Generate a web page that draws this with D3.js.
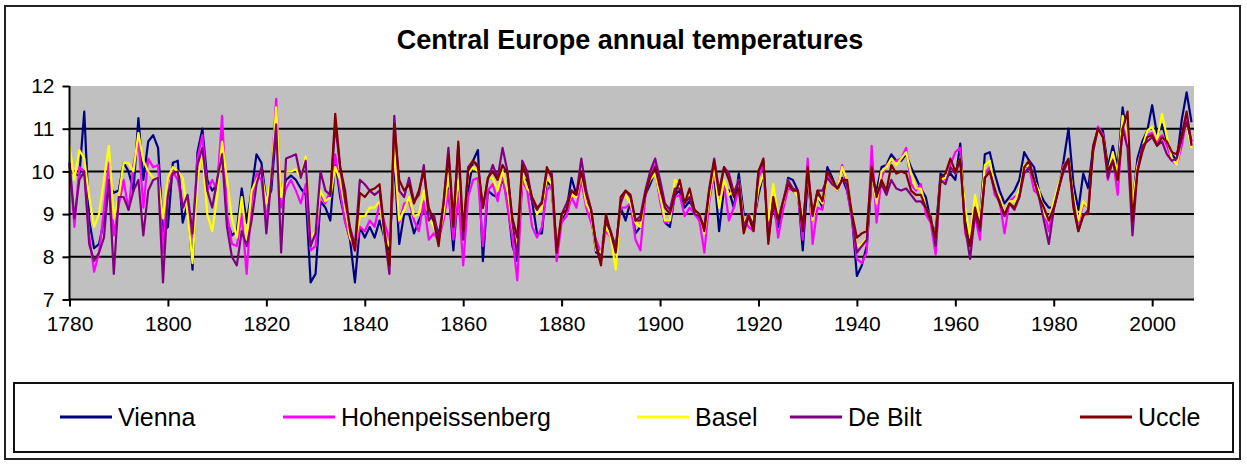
<!DOCTYPE html>
<html>
<head>
<meta charset="utf-8">
<script src="https://cdn.jsdelivr.net/npm/d3@7/dist/d3.min.js"></script>
<style>
    body { margin: 0; background: #fff; }
    text { font-family: Arial, "Liberation Sans", sans-serif; fill: #000; }
</style>
</head>
<body>
<svg></svg>
<script>
"use strict";

// annual means
var years = d3.range(1780, 2009);
var yTicks = [7, 8, 9, 10, 11, 12];
var xTicks = [1780, 1800, 1820, 1840, 1860, 1880, 1900, 1920, 1940, 1960, 1980, 2000];

var vienna = [
    10.0, 9.95, 9.9, 11.4, 8.85, 8.2, 8.3, 8.85, 9.7, 9.5,
    9.55, 10.2, 10.0, 9.55, 11.25, 9.8, 10.7, 10.85, 10.55, 8.6,
    8.7, 10.2, 10.25, 8.8, 9.25, 7.7, 10.45, 11.0, 9.8, 9.55,
    9.7, 10.9, 8.85, 8.5, 8.6, 9.6, 8.8, 9.55, 10.4, 10.2,
    9.3, 9.55, 11.0, 9.45, 9.8, 9.9, 9.8, 9.6, 9.45, 7.4,
    7.6, 9.3, 9.15, 8.85, 10.25, 9.4, 8.85, 8.4, 7.4, 8.7,
    8.45, 8.7, 8.45, 8.85, 8.45, 8.15, 10.25, 8.3, 9.0, 9.0,
    8.55, 8.85, 9.1, 9.0, 8.85, 8.55, 8.95, 9.6, 8.15, 9.6,
    8.85, 9.55, 10.25, 10.5, 7.9, 9.55, 9.45, 9.4, 9.85, 9.3,
    8.25, 7.9, 9.8, 9.8, 9.3, 8.55, 8.55, 9.8, 9.6, 8.25,
    8.85, 9.1, 9.85, 9.45, 9.8, 9.3, 9.0, 8.1, 8.05, 8.85,
    8.55, 8.25, 9.15, 8.85, 9.3, 8.55, 8.7, 9.45, 9.7, 10.0,
    9.4, 8.8, 8.7, 9.45, 9.55, 9.15, 9.3, 9.1, 8.85, 8.7,
    9.4, 9.95, 8.6, 9.6, 9.55, 9.15, 9.95, 9.0, 8.95, 8.8,
    9.45, 9.95, 8.8, 9.15, 8.7, 9.15, 9.85, 9.8, 9.55, 8.15,
    9.8, 8.85, 9.45, 9.15, 10.1, 9.85, 9.55, 9.85, 9.55, 8.95,
    7.55, 7.8, 8.25, 9.8, 9.55, 10.1, 10.15, 10.4, 10.25, 10.25,
    10.4, 10.1, 9.85, 9.6, 9.4, 8.85, 8.55, 9.95, 9.85, 9.95,
    9.8, 10.65, 8.85, 8.4, 9.0, 8.85, 10.4, 10.45, 9.95, 9.55,
    9.25, 9.4, 9.55, 9.8, 10.45, 10.25, 10.1, 9.55, 9.3, 9.15,
    9.15, 9.6, 10.25, 11.0, 9.7, 9.1, 9.95, 9.6, 10.55, 11.0,
    10.95, 10.1, 10.6, 10.1, 11.5, 10.7, 9.15, 10.3, 10.7, 10.95,
    11.55, 10.85, 11.1, 10.7, 10.4, 10.25, 11.2, 11.85, 11.15
];

var hohenpeissenberg = [
    10.2, 8.7, 10.1, 10.0, 8.5, 7.65, 8.1, 9.1, 10.2, 8.5,
    9.2, 9.8, 9.1, 10.15, 10.75, 9.15, 10.3, 10.1, 10.15, 8.1,
    9.8, 10.0, 9.8, 9.15, 9.3, 8.45, 10.3, 10.85, 9.55, 9.8,
    9.55, 11.3, 9.0, 8.3, 8.25, 9.0, 7.6, 9.3, 9.95, 9.8,
    8.85, 9.8, 11.7, 9.15, 9.6, 9.8, 9.55, 9.25, 9.7, 8.15,
    8.25, 9.45, 9.25, 9.55, 10.4, 9.55, 8.8, 8.45, 8.15, 8.7,
    8.6, 8.85, 8.7, 9.25, 8.8, 8.4, 10.4, 8.8, 9.25, 9.3,
    8.85, 8.6, 9.3, 8.4, 8.55, 8.4, 8.85, 9.55, 8.4, 9.45,
    7.8, 9.4, 9.8, 9.85, 8.25, 9.55, 9.7, 9.3, 9.95, 9.15,
    8.45, 7.45, 9.8, 9.55, 8.7, 8.45, 8.7, 9.55, 9.7, 7.9,
    8.8, 8.95, 9.4, 9.15, 9.8, 9.15, 8.8, 8.4, 8.1, 8.6,
    8.45, 8.25, 9.15, 9.15, 9.25, 8.4, 8.15, 9.4, 9.95, 10.15,
    9.3, 8.8, 8.85, 9.4, 9.45, 8.95, 9.15, 9.0, 8.85, 8.1,
    9.3, 9.95, 9.25, 9.7, 8.85, 9.15, 9.6, 8.85, 8.7, 8.6,
    9.85, 10.15, 8.6, 9.4, 8.45, 9.1, 9.6, 9.55, 9.45, 8.4,
    10.3, 8.3, 9.15, 9.1, 9.95, 9.7, 9.55, 10.15, 9.6, 8.85,
    7.95, 7.85, 8.1, 10.6, 8.8, 9.85, 10.15, 10.25, 10.25, 10.3,
    10.55, 9.7, 9.55, 9.7, 9.0, 8.8, 8.05, 9.85, 9.8, 10.15,
    10.45, 10.55, 8.55, 8.25, 8.95, 8.4, 9.95, 10.1, 9.45, 9.3,
    8.55, 9.3, 9.4, 9.45, 10.1, 10.1, 9.55, 9.45, 9.1, 8.6,
    9.25, 9.6, 10.15, 10.25, 9.25, 8.8, 9.25, 9.15, 10.45, 11.05,
    10.85, 9.8, 10.3, 9.45, 11.1, 10.7, 9.1, 10.15, 10.55, 10.85,
    10.9, 10.7, 10.85, 10.6, 10.25, 10.15, 10.6, 11.25, 10.7
];

var basel = [
    10.6, 9.8, 10.5, 10.3, 9.4, 8.7, 9.0, 9.8, 10.6, 8.9,
    9.4, 10.2, 10.2, 10.0, 10.9, 10.25, 10.0, 9.85, 9.85, 8.9,
    9.85, 10.1, 10.0, 9.85, 9.0, 7.85, 9.85, 10.45, 9.0, 8.6,
    9.4, 10.7, 9.8, 8.9, 8.45, 9.4, 8.4, 9.55, 9.8, 10.0,
    9.25, 9.85, 11.5, 9.4, 10.0, 10.0, 10.05, 9.85, 10.35, 8.45,
    8.6, 9.55, 9.3, 9.4, 10.1, 9.8, 9.15, 8.45, 8.25, 8.95,
    8.95, 9.15, 9.15, 9.3, 8.45, 8.25, 10.55, 8.85, 9.1, 9.4,
    8.95, 9.0, 9.55, 8.95, 8.7, 8.45, 9.0, 9.95, 8.85, 9.8,
    8.7, 9.95, 10.1, 10.0, 9.25, 9.85, 9.85, 9.55, 10.0, 9.55,
    8.7, 8.25, 9.95, 9.6, 9.45, 9.0, 9.15, 9.85, 9.7, 8.25,
    8.95, 9.15, 9.45, 9.4, 9.95, 9.25, 9.0, 8.15, 8.1, 8.7,
    8.45, 7.7, 9.3, 9.45, 9.25, 8.8, 8.7, 9.55, 9.8, 9.95,
    9.45, 8.85, 8.85, 9.8, 9.7, 9.3, 9.45, 9.0, 9.0, 8.55,
    9.4, 10.1, 9.15, 9.8, 9.45, 9.55, 9.8, 8.8, 9.0, 8.85,
    9.6, 9.95, 8.85, 9.7, 8.95, 9.25, 9.8, 9.6, 9.4, 8.85,
    9.95, 8.85, 9.4, 9.25, 9.85, 9.7, 9.55, 10.1, 9.8, 9.0,
    8.25, 8.3, 8.45, 9.95, 9.25, 10.0, 10.1, 10.3, 10.15, 10.3,
    10.45, 9.95, 9.6, 9.6, 9.15, 8.95, 8.4, 9.8, 9.85, 10.1,
    9.95, 10.3, 9.15, 8.45, 9.45, 8.85, 10.15, 10.25, 9.55, 9.4,
    9.0, 9.3, 9.3, 9.55, 10.15, 10.1, 9.8, 9.55, 9.0, 8.85,
    9.3, 9.7, 10.1, 10.3, 9.4, 8.85, 9.3, 9.15, 10.4, 10.95,
    10.8, 9.95, 10.45, 9.95, 11.3, 10.85, 9.25, 10.1, 10.55, 10.95,
    11.05, 10.75, 11.35, 10.8, 10.3, 10.15, 10.8, 11.1, 10.55
];

var deBilt = [
    10.2, 8.9, 9.8, 10.0, 8.3, 7.9, 8.1, 8.45, 9.8, 7.6,
    9.4, 9.4, 9.1, 9.55, 9.8, 8.5, 9.55, 9.8, 9.85, 7.4,
    9.45, 9.95, 10.0, 9.15, 9.45, 8.55, 10.15, 10.55, 9.55, 9.15,
    9.8, 10.4, 8.7, 8.0, 7.8, 8.6, 8.25, 8.85, 9.7, 10.1,
    8.55, 9.8, 11.1, 8.1, 10.3, 10.35, 10.4, 9.85, 10.25, 8.25,
    8.55, 10.0, 9.55, 9.45, 11.1, 10.1, 9.3, 8.7, 8.25, 9.8,
    9.7, 9.55, 9.45, 9.55, 8.55, 7.6, 11.3, 9.55, 9.4, 9.85,
    9.3, 9.45, 10.15, 8.85, 9.0, 8.45, 9.25, 10.55, 8.85, 10.6,
    8.4, 10.1, 10.25, 10.15, 9.15, 9.8, 10.15, 9.85, 10.55, 10.0,
    8.8, 8.0, 10.25, 10.0, 9.3, 9.1, 9.3, 10.0, 9.95, 8.15,
    9.0, 9.25, 9.55, 9.45, 10.3, 9.55, 9.1, 8.3, 7.9, 8.85,
    8.6, 8.15, 9.25, 9.55, 9.4, 8.85, 8.95, 9.55, 10.0, 10.3,
    9.8, 9.25, 9.1, 9.6, 9.6, 9.25, 9.4, 9.0, 8.95, 8.7,
    9.6, 10.3, 9.55, 10.1, 9.95, 9.5, 9.8, 8.7, 9.0, 8.7,
    10.0, 10.25, 8.4, 9.3, 8.85, 9.3, 9.8, 9.6, 9.55, 8.7,
    10.0, 8.95, 9.55, 9.55, 9.85, 9.7, 9.6, 9.8, 9.7, 8.95,
    8.1, 8.25, 8.4, 9.95, 9.45, 9.7, 9.45, 9.8, 9.6, 9.55,
    9.6, 9.45, 9.3, 9.3, 9.15, 8.95, 8.25, 9.8, 9.7, 10.1,
    9.95, 10.25, 8.7, 7.95, 9.0, 8.6, 9.85, 10.0, 9.55, 9.3,
    8.95, 9.25, 9.1, 9.4, 9.95, 10.1, 9.8, 9.4, 8.85, 8.3,
    9.1, 9.6, 10.0, 10.25, 9.3, 8.6, 8.95, 9.1, 10.45, 11.0,
    10.8, 9.85, 10.25, 9.8, 11.0, 10.55, 8.5, 10.0, 10.6, 10.7,
    10.8, 10.6, 10.7, 10.4, 10.25, 10.3, 10.75, 11.15, 10.7
];

// Uccle starts in 1833
var uccleStart = 1833;
var uccle = [
    9.4, 11.35, 10.1, 9.55, 8.6, 8.15, 9.5,
    9.4, 9.55, 9.6, 9.7, 8.6, 7.8, 11.1, 9.8, 9.55, 9.7,
    9.25, 9.55, 10.0, 9.15, 8.85, 8.25, 9.25, 10.4, 8.7, 10.7,
    8.6, 10.0, 10.25, 10.1, 9.15, 9.85, 10.0, 9.8, 10.15, 9.95,
    8.9, 8.45, 10.15, 9.85, 9.4, 9.15, 9.25, 10.1, 9.85, 8.1,
    9.0, 9.1, 9.55, 9.45, 10.0, 9.45, 9.1, 8.25, 7.8, 9.0,
    8.55, 8.1, 9.4, 9.55, 9.45, 8.85, 8.85, 9.45, 9.85, 10.1,
    9.6, 9.15, 9.0, 9.45, 9.8, 9.25, 9.6, 9.1, 9.0, 8.6,
    9.55, 10.25, 9.45, 10.1, 9.8, 9.4, 9.6, 8.55, 8.95, 8.6,
    10.0, 10.3, 8.3, 9.4, 8.85, 9.3, 9.7, 9.55, 9.55, 8.6,
    10.1, 9.0, 9.55, 9.3, 10.0, 9.8, 9.6, 9.8, 9.8, 9.0,
    8.45, 8.55, 8.6, 10.1, 9.4, 9.8, 9.55, 10.15, 9.95, 10.0,
    9.95, 9.55, 9.45, 9.45, 9.15, 8.85, 8.45, 9.85, 9.95, 10.3,
    10.0, 10.3, 8.7, 8.25, 9.15, 8.7, 9.85, 10.0, 9.6, 9.25,
    9.0, 9.25, 9.15, 9.4, 10.1, 10.25, 9.8, 9.4, 9.15, 8.85,
    9.15, 9.6, 10.1, 10.3, 9.15, 8.6, 9.0, 9.0, 10.6, 11.0,
    10.8, 10.0, 10.25, 9.8, 11.0, 11.4, 8.85, 10.0, 10.45, 10.8,
    10.85, 10.6, 10.8, 10.7, 10.45, 10.4, 10.85, 11.4, 10.6
];

var seriesNames = ['Vienna', 'Hohenpeissenberg', 'Basel', 'De Bilt', 'Uccle'];
var seriesColors = ['#000080', '#ff00ff', '#ffff00', '#800080', '#800000'];

var settings = {
    svg: { width: 1247, height: 464 },
    plot: { left: 69.5, right: 1194, top: 86, bottom: 299.5, fill: '#c0c0c0' },
    legend: {
        x: 14, y: 383, width: 1219, height: 69,
        items: [60, 283, 637, 790, 1080],
        lineWidth: 52
    }
};

var series = [
    { name: seriesNames[0], color: seriesColors[0], start: 1780, values: vienna },
    { name: seriesNames[1], color: seriesColors[1], start: 1780, values: hohenpeissenberg },
    { name: seriesNames[2], color: seriesColors[2], start: 1780, values: basel },
    { name: seriesNames[3], color: seriesColors[3], start: 1780, values: deBilt },
    { name: seriesNames[4], color: seriesColors[4], start: uccleStart, values: uccle }
];

var svg = d3.select('svg')
    .attr('width', settings.svg.width)
    .attr('height', settings.svg.height);

// chart frame
svg.append('rect')
    .attr('x', 5).attr('y', 6)
    .attr('width', 1235).attr('height', 453)
    .attr('fill', '#fff')
    .attr('stroke', '#222')
    .attr('stroke-width', 2);

svg.append('text')
    .attr('x', 630)
    .attr('y', 49)
    .attr('text-anchor', 'middle')
    .style('font-weight', 'bold')
    .style('font-size', '27px')
    .text('Central Europe annual temperatures');

var x = d3.scaleLinear()
    .domain([1780, 2008.5])
    .range([settings.plot.left, settings.plot.right]);

var y = d3.scaleLinear()
    .domain([7, 12])
    .range([settings.plot.bottom, settings.plot.top]);

svg.append('rect')
    .attr('x', settings.plot.left)
    .attr('y', settings.plot.top)
    .attr('width', settings.plot.right - settings.plot.left)
    .attr('height', settings.plot.bottom - settings.plot.top)
    .attr('fill', settings.plot.fill);

// gridlines
svg.append('g')
    .selectAll('line')
    .data(yTicks.filter(d => d > 7 && d < 12))
    .enter()
    .append('line')
    .attr('x1', settings.plot.left)
    .attr('x2', settings.plot.right)
    .attr('y1', d => y(d))
    .attr('y2', d => y(d))
    .attr('stroke', '#000')
    .attr('stroke-width', 2);

// series
var line = d3.line()
    .x(d => x(d.year))
    .y(d => y(d.value));

svg.append('g')
    .selectAll('path')
    .data(series)
    .enter()
    .append('path')
    .attr('d', s => line(s.values.map((v, i) => ({ year: s.start + i, value: v }))))
    .attr('fill', 'none')
    .attr('stroke', s => s.color)
    .attr('stroke-width', 2.2)
    .attr('stroke-linejoin', 'round');

// axes
var xAxis = svg.append('g')
    .attr('transform', `translate(0,${settings.plot.bottom})`)
    .call(d3.axisBottom(x).tickValues(xTicks).tickFormat(d3.format('d')).tickSize(7).tickPadding(10));

var yAxis = svg.append('g')
    .attr('transform', `translate(${settings.plot.left},0)`)
    .call(d3.axisLeft(y).tickValues(yTicks).tickFormat(d3.format('d')).tickSize(7).tickPadding(8));

[xAxis, yAxis].forEach(a => {
    a.select('.domain').attr('stroke', '#000').attr('stroke-width', 2);
    a.selectAll('.tick line').attr('stroke', '#000').attr('stroke-width', 2);
    a.selectAll('.tick text')
        .style('font-size', '21px')
        .style('font-family', 'Arial, "Liberation Sans", sans-serif');
});
xAxis.select('.domain').attr('d', `M${settings.plot.left},0H${settings.plot.right}`);
yAxis.select('.domain').attr('d', `M0,${settings.plot.bottom}V${settings.plot.top}`);

// legend
var legend = svg.append('g');

legend.append('rect')
    .attr('x', settings.legend.x)
    .attr('y', settings.legend.y)
    .attr('width', settings.legend.width)
    .attr('height', settings.legend.height)
    .attr('fill', '#fff')
    .attr('stroke', '#111')
    .attr('stroke-width', 2);

var items = legend.selectAll('.item')
    .data(series)
    .enter()
    .append('g')
    .attr('class', 'item')
    .attr('transform', (d, i) => `translate(${settings.legend.items[i]},417)`);

items.append('line')
    .attr('x1', 0)
    .attr('x2', settings.legend.lineWidth)
    .attr('stroke', d => d.color)
    .attr('stroke-width', 3);

items.append('text')
    .attr('x', settings.legend.lineWidth + 6)
    .attr('dy', '0.35em')
    .style('font-size', '25px')
    .text(d => d.name);
</script>
</body>
</html>
